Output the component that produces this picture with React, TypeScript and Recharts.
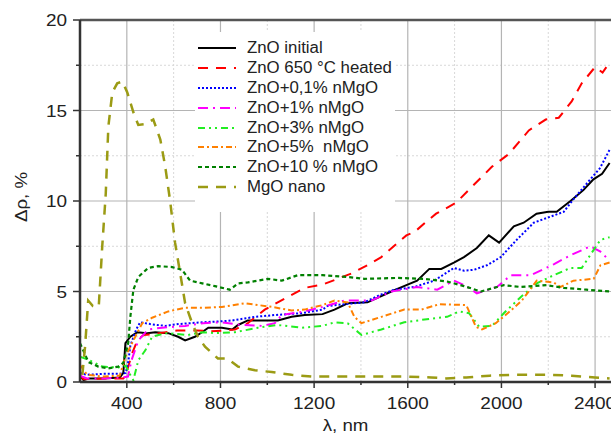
import React from "react";
import { LineChart, Line, XAxis, YAxis, ReferenceLine, Legend } from "recharts";

// Δρ(λ) for ZnO and ZnO+nMgO samples.

const FONT = '"Liberation Sans", Arial, sans-serif';

const znoInitialX = [200, 215, 240, 300, 370, 385, 394, 415, 445, 487, 521, 577, 619, 649, 691, 721, 748, 806, 850, 875, 917, 977, 1045, 1104, 1160, 1236, 1287, 1343, 1428, 1530, 1594, 1640, 1692, 1743, 1797, 1840, 1895, 1946, 1990, 2053, 2095, 2150, 2200, 2236, 2295, 2350, 2393, 2430, 2462];
const znoInitialY = [0.35, 0.1, 0.2, 0.2, 0.25, 0.5, 2.15, 2.5, 2.75, 2.7, 2.75, 2.7, 2.5, 2.3, 2.5, 2.75, 3.0, 3.0, 2.9, 3.15, 3.4, 3.4, 3.4, 3.6, 3.7, 3.75, 4.0, 4.35, 4.4, 5.0, 5.35, 5.6, 6.25, 6.25, 6.6, 6.9, 7.4, 8.1, 7.7, 8.6, 8.8, 9.3, 9.4, 9.4, 10.0, 10.6, 11.2, 11.5, 12.1];

const zno650X = [200, 215, 300, 385, 395, 423, 445, 472, 520, 614, 700, 760, 820, 862, 917, 989, 1080, 1160, 1240, 1300, 1360, 1420, 1487, 1540, 1594, 1630, 1683, 1721, 1806, 1875, 1960, 2032, 2117, 2189, 2245, 2300, 2343, 2400, 2432, 2465];
const zno650Y = [0.35, 0.15, 0.2, 0.2, 0.35, 1.6, 2.3, 2.6, 2.65, 2.85, 2.85, 2.8, 2.85, 2.9, 3.25, 4.0, 4.65, 5.2, 5.4, 5.7, 6.0, 6.4, 6.9, 7.5, 8.1, 8.3, 8.9, 9.3, 9.9, 10.8, 11.9, 12.6, 13.9, 14.5, 14.6, 15.5, 16.5, 17.4, 17.1, 17.7];

const zno01X = [200, 230, 300, 370, 395, 405, 415, 440, 457, 500, 563, 620, 722, 800, 850, 947, 1032, 1147, 1236, 1257, 1330, 1414, 1480, 1542, 1628, 1713, 1797, 1840, 1883, 1938, 1997, 2061, 2138, 2223, 2266, 2308, 2380, 2420, 2465];
const zno01Y = [0.5, 0.4, 0.45, 0.45, 0.5, 1.0, 2.0, 2.9, 3.3, 3.2, 3.1, 3.2, 3.3, 3.35, 3.4, 3.6, 3.7, 3.8, 4.0, 4.2, 4.3, 4.4, 4.8, 5.1, 5.25, 5.6, 6.3, 6.15, 6.2, 6.45, 6.9, 7.8, 8.8, 9.2, 9.4, 10.1, 11.2, 11.8, 12.9];

const zno1X = [200, 230, 300, 380, 405, 420, 449, 491, 551, 649, 726, 800, 892, 977, 1032, 1062, 1160, 1236, 1330, 1445, 1530, 1640, 1726, 1797, 1850, 1895, 1981, 2040, 2125, 2223, 2295, 2380, 2423, 2462];
const zno1Y = [0.35, 0.2, 0.2, 0.25, 0.3, 1.2, 2.3, 2.9, 3.0, 3.1, 3.25, 3.3, 3.15, 3.1, 3.25, 3.7, 3.9, 4.15, 4.5, 4.5, 5.0, 5.25, 5.1, 5.6, 5.3, 4.9, 5.25, 5.9, 5.9, 6.5, 7.0, 7.5, 7.2, 6.7];

const zno3X = [200, 240, 296, 363, 395, 410, 428, 449, 479, 508, 564, 662, 722, 776, 862, 960, 1045, 1147, 1236, 1287, 1343, 1402, 1487, 1585, 1700, 1768, 1820, 1862, 1905, 1960, 2010, 2083, 2151, 2223, 2295, 2343, 2394, 2423, 2462];
const zno3Y = [1.4, 1.2, 0.85, 0.8, 0.9, 0.5, 0.1, 1.2, 1.75, 2.5, 2.7, 2.6, 2.75, 2.7, 2.75, 3.0, 3.15, 3.0, 3.1, 3.3, 3.25, 2.6, 2.9, 3.3, 3.5, 3.6, 3.9, 3.8, 3.05, 3.1, 3.8, 4.7, 5.45, 5.9, 6.3, 6.3, 7.3, 7.85, 8.0];

const zno5X = [200, 230, 300, 370, 394, 428, 466, 508, 577, 649, 726, 806, 904, 1019, 1104, 1160, 1236, 1287, 1343, 1372, 1402, 1487, 1585, 1657, 1735, 1850, 1891, 1917, 1976, 2045, 2087, 2151, 2223, 2253, 2308, 2394, 2423, 2462];
const zno5Y = [0.95, 0.4, 0.3, 0.35, 1.4, 2.3, 3.25, 3.55, 3.9, 4.1, 4.1, 4.15, 4.35, 4.15, 3.95, 4.0, 4.25, 4.5, 4.4, 3.6, 3.25, 3.6, 4.0, 4.0, 4.3, 4.25, 3.05, 2.9, 3.25, 4.0, 4.5, 5.6, 5.5, 5.25, 5.6, 5.7, 6.45, 6.6];

const zno10X = [200, 236, 278, 321, 363, 385, 406, 415, 428, 449, 491, 534, 594, 636, 670, 722, 776, 840, 875, 917, 1002, 1062, 1130, 1236, 1343, 1414, 1555, 1670, 1768, 1840, 1912, 2010, 2083, 2193, 2266, 2363, 2462];
const zno10Y = [2.15, 1.1, 0.85, 0.75, 0.85, 1.05, 2.15, 3.6, 5.1, 5.8, 6.3, 6.4, 6.35, 6.2, 5.6, 5.45, 5.3, 5.1, 5.45, 5.5, 5.7, 5.6, 5.9, 5.9, 5.8, 5.7, 5.75, 5.7, 5.55, 5.3, 5.0, 5.35, 5.25, 5.35, 5.2, 5.1, 5.0];

const mgoX = [210, 222, 235, 255, 280, 295, 310, 321, 338, 359, 381, 402, 428, 449, 479, 513, 543, 564, 585, 606, 628, 649, 679, 704, 734, 789, 828, 875, 947, 1019, 1104, 1189, 1300, 1450, 1600, 1700, 1763, 1850, 1950, 2050, 2200, 2300, 2400, 2462];
const mgoY = [0.4, 2.0, 4.5, 4.2, 4.15, 7.5, 10.4, 14.1, 16.0, 16.5, 16.6, 16.0, 14.9, 14.2, 14.25, 14.5, 13.4, 11.9, 10.0, 7.7, 6.0, 4.35, 3.25, 2.5, 1.95, 1.3, 1.3, 0.85, 0.65, 0.55, 0.4, 0.3, 0.3, 0.3, 0.3, 0.25, 0.2, 0.25, 0.35, 0.4, 0.4, 0.35, 0.25, 0.2];

const xMajor = [400, 800, 1200, 1600, 2000, 2400];
const xMinor = [600, 1000, 1400, 1800, 2200];
const yMajor = [5, 10, 15];
const yMinor = [2.5, 7.5, 12.5, 17.5];
const xTicks = [400, 600, 800, 1000, 1200, 1400, 1600, 1800, 2000, 2200, 2400];
const yTicks = [0, 2.5, 5, 7.5, 10, 12.5, 15, 17.5, 20];

const pts = (xs: number[], ys: number[]) => xs.map((x, i) => ({ x, y: ys[i] }));

const series = [
  { name: "ZnO initial", data: pts(znoInitialX, znoInitialY), color: "#000000", dash: undefined, width: 2 },
  { name: "ZnO 650 °C heated", data: pts(zno650X, zno650Y), color: "#ff0000", dash: "10 8", width: 2 },
  { name: "ZnO+0,1% nMgO", data: pts(zno01X, zno01Y), color: "#0000ff", dash: "2 2", width: 2 },
  { name: "ZnO+1% nMgO", data: pts(zno1X, zno1Y), color: "#ff00ff", dash: "10 5 2 5", width: 2 },
  { name: "ZnO+3% nMgO", data: pts(zno3X, zno3Y), color: "#22ee22", dash: "7 4 2 4 2 4", width: 2 },
  { name: "ZnO+5%  nMgO", data: pts(zno5X, zno5Y), color: "#ff8000", dash: "6 3 2 3", width: 2 },
  { name: "ZnO+10 % nMgO", data: pts(zno10X, zno10Y), color: "#008000", dash: "4 3", width: 2.2 },
  { name: "MgO nano", data: pts(mgoX, mgoY), color: "#9b9b14", dash: "10 8", width: 2.5 },
];

const XTick = (props: any) => {
  const { x, y, payload } = props;
  const v = payload.value;
  const major = v % 400 === 0;
  return (
    <g>
      <line x1={x} x2={x} y1={y} y2={y + (major ? 6 : 3)} stroke="#333" strokeWidth={1.5} />
      {major && (
        <text
          transform={`translate(${x},${y + 27}) scale(1.15,1)`}
          textAnchor="middle"
          fontSize={16.5}
          fontFamily={FONT}
          fill="#222"
        >
          {v}
        </text>
      )}
    </g>
  );
};

const YTick = (props: any) => {
  const { x, y, payload } = props;
  const v = payload.value;
  const major = v % 5 === 0;
  return (
    <g>
      <line x1={x - (major ? 7 : 4)} x2={x} y1={y} y2={y} stroke="#333" strokeWidth={1.5} />
      {major && (
        <text
          transform={`translate(${x - 13},${y + 6}) scale(1.15,1)`}
          textAnchor="end"
          fontSize={16.5}
          fontFamily={FONT}
          fill="#222"
        >
          {v}
        </text>
      )}
    </g>
  );
};

const LegendBox = () => (
  <div style={{ background: "#fff", fontFamily: FONT, fontSize: 16, color: "#222" }}>
    {series.map((s) => (
      <div key={s.name} style={{ display: "flex", alignItems: "center", height: 19.9, whiteSpace: "pre" }}>
        <svg width={44} height={10} style={{ marginLeft: 3, marginRight: 5 }}>
          <line x1={0} x2={38} y1={5} y2={5} stroke={s.color} strokeWidth={s.width} strokeDasharray={s.dash} />
        </svg>
        <span style={{ display: "inline-block", transform: "scaleX(1.05)", transformOrigin: "left" }}>{s.name}</span>
      </div>
    ))}
  </div>
);

export default function App() {
  return (
    <div style={{ position: "absolute", left: 0, top: 0, width: 611, height: 438, background: "#fff" }}>
      <LineChart width={611} height={438} margin={{ top: 20, right: 0, left: 0, bottom: 0 }}>
        <XAxis
          type="number"
          dataKey="x"
          domain={[200, 2468]}
          ticks={xTicks}
          interval={0}
          allowDataOverflow
          height={56}
          tickLine={false}
          tickSize={0}
          tickMargin={0}
          tick={<XTick />}
          axisLine={{ stroke: "#333", strokeWidth: 2.5 }}
          label={{
            content: (p: any) => {
              const vb = p.viewBox || { x: 80, width: 531, y: 382 };
              return (
                <text
                  transform={`translate(${vb.x + vb.width / 2},${431}) scale(1.1,1)`}
                  textAnchor="middle"
                  fontSize={17}
                  fontFamily={FONT}
                  fill="#222"
                >
                  λ, nm
                </text>
              );
            },
          }}
        />
        <YAxis
          type="number"
          dataKey="y"
          domain={[0, 20]}
          ticks={yTicks}
          interval={0}
          width={80}
          tickLine={false}
          tickSize={0}
          tickMargin={0}
          tick={<YTick />}
          axisLine={{ stroke: "#333", strokeWidth: 2.5 }}
          label={{
            content: () => (
              <text
                transform={`translate(27,197) rotate(-90) scale(1.1,1)`}
                textAnchor="middle"
                fontSize={17}
                fontFamily={FONT}
                fill="#222"
              >
                Δρ, %
              </text>
            ),
          }}
        />
        {xMinor.map((v) => (
          <ReferenceLine key={"xm" + v} x={v} stroke="#d8d8d8" strokeDasharray="2 2" />
        ))}
        {yMinor.map((v) => (
          <ReferenceLine key={"ym" + v} y={v} stroke="#d8d8d8" strokeDasharray="2 2" />
        ))}
        {xMajor.map((v) => (
          <ReferenceLine key={"xM" + v} x={v} stroke="#b4b4b4" strokeWidth={1.2} />
        ))}
        {yMajor.map((v) => (
          <ReferenceLine key={"yM" + v} y={v} stroke="#b4b4b4" strokeWidth={1.2} />
        ))}
        <ReferenceLine y={20} stroke="#555" strokeWidth={2.5} />
        {series.map((s) => (
          <Line
            key={s.name}
            data={s.data}
            dataKey="y"
            name={s.name}
            type="linear"
            stroke={s.color}
            strokeWidth={s.width}
            strokeDasharray={s.dash}
            dot={false}
            activeDot={false}
            isAnimationActive={false}
          />
        ))}
        <Legend
          layout="horizontal"
          align="center"
          verticalAlign="middle"
          content={<LegendBox />}
          wrapperStyle={{ left: 195, top: 32, width: 200, height: 174, paddingTop: 6, background: "#fff" }}
        />
      </LineChart>
    </div>
  );
}
